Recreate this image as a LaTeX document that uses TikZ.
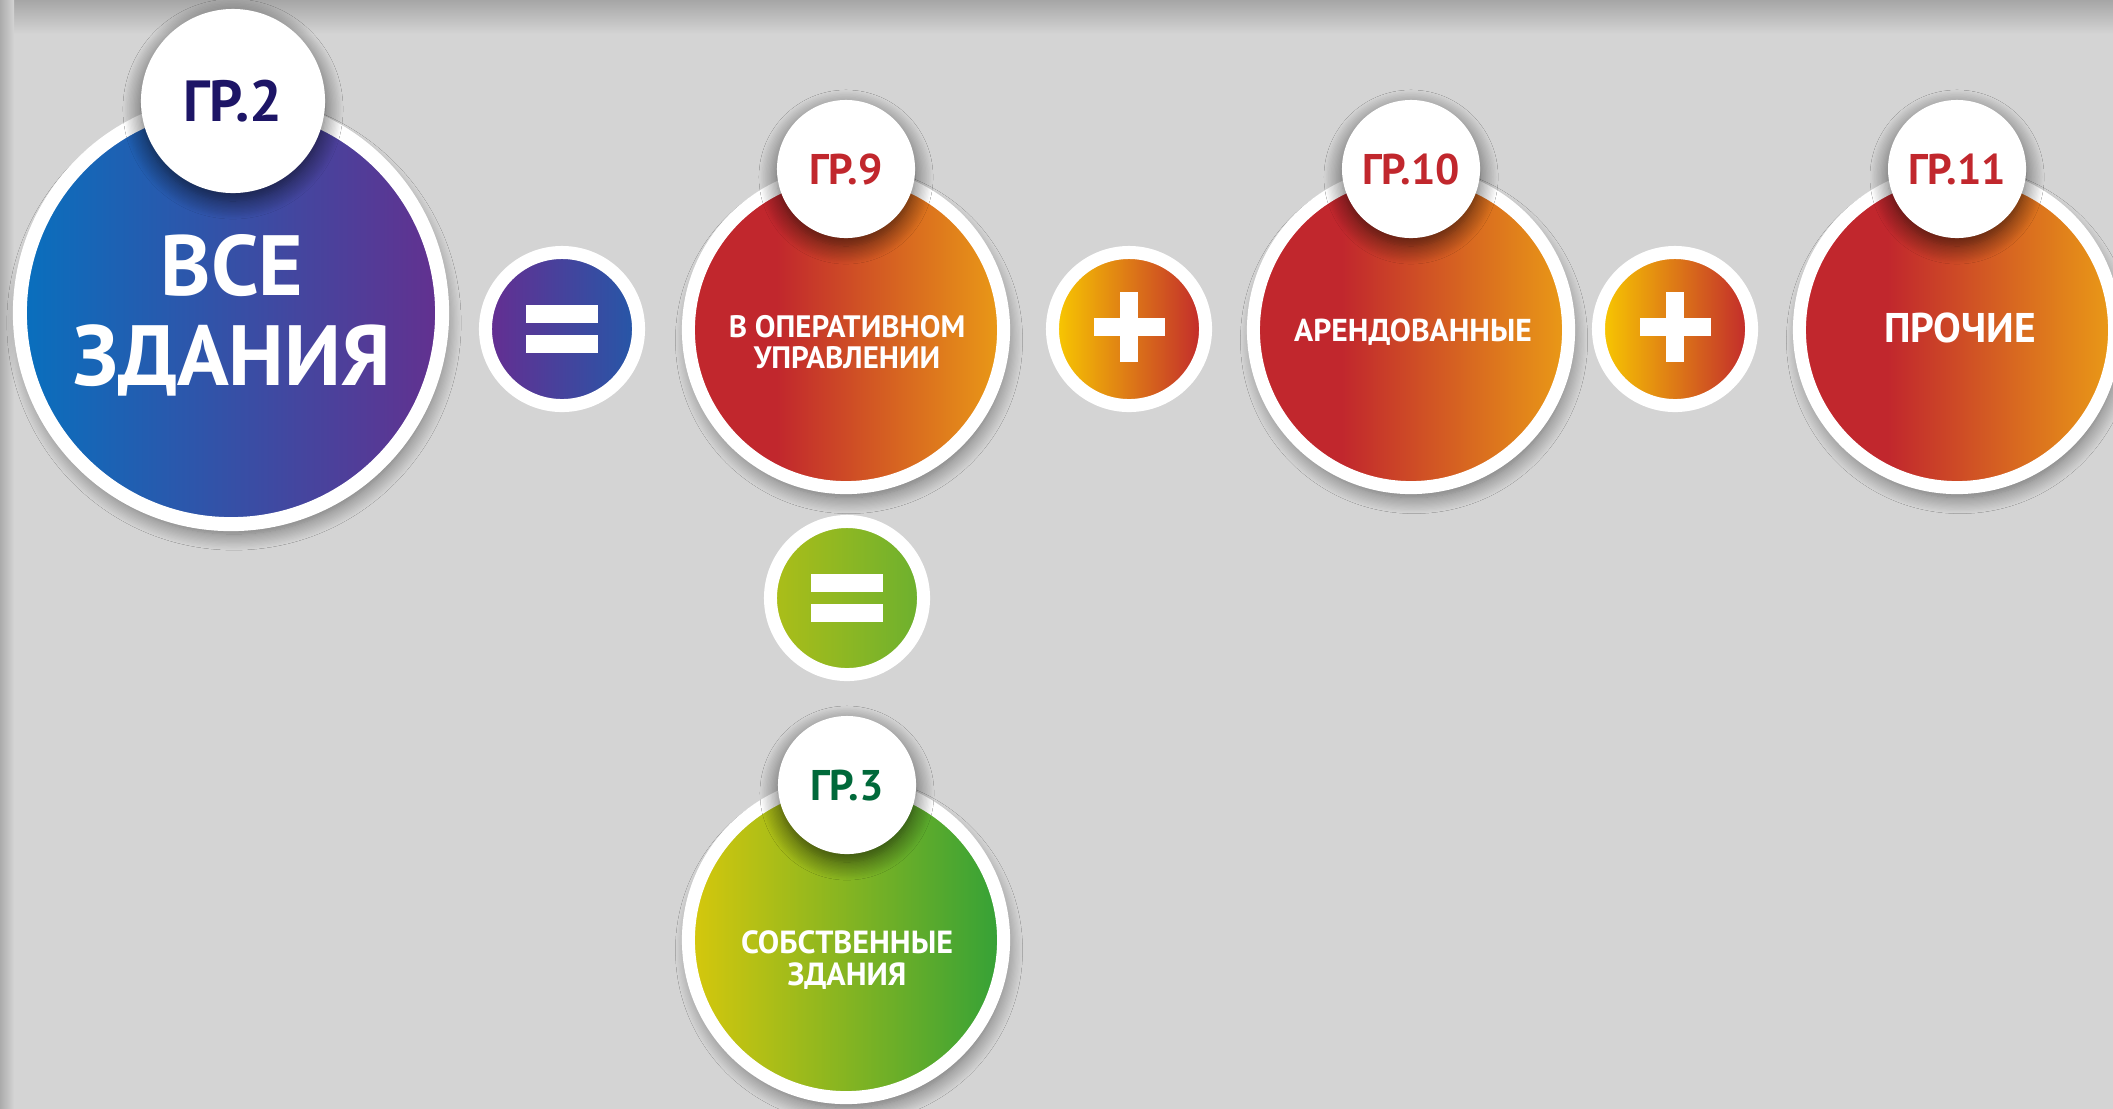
\documentclass[tikz,border=0pt]{standalone}
\usepackage{fontspec}
\setmainfont{PT Sans}
\usetikzlibrary{shadows.blur}

\definecolor{bggray}{HTML}{D4D4D4}
\definecolor{edgegray}{HTML}{A2A2A2}
\definecolor{allblue}{HTML}{0870BE}
\definecolor{allpurple}{HTML}{63308F}
\definecolor{eqpurple}{HTML}{662D91}
\definecolor{eqblue}{HTML}{2558A8}
\definecolor{grred}{HTML}{C1272D}
\definecolor{grorange}{HTML}{EA9B16}
\definecolor{plusyellow}{HTML}{F9CB00}
\definecolor{plusorange}{HTML}{E27A1E}
\definecolor{eqlime}{HTML}{ADBE18}
\definecolor{eqgreen}{HTML}{6BB02F}
\definecolor{ownyellow}{HTML}{D7C80C}
\definecolor{owngreen}{HTML}{33A137}
\definecolor{navytext}{HTML}{1D1566}
\definecolor{greentext}{HTML}{00693A}

\pgfdeclarehorizontalshading{redorange}{100bp}{color(0bp)=(grred); color(39bp)=(grred); color(75bp)=(grorange); color(100bp)=(grorange)}

\tikzset{
  softshadow/.style={blur shadow={shadow xshift=0.03cm, shadow yshift=-0.1cm, shadow blur radius=0.16cm, shadow blur steps=14, shadow opacity=50}},
  ring/.style={circle, draw=white, inner sep=0pt},
  bigdisc/.style={ring, softshadow, line width=0.14cm, minimum size=4.22cm},
  disc/.style={ring, softshadow, line width=0.13cm, minimum size=3.15cm},
  opdisc/.style={ring, line width=0.13cm, minimum size=1.53cm},
  badge/.style={circle, fill=white, inner sep=0pt, minimum size=1.38cm,
    font=\fontsize{12.2}{14}\selectfont\bfseries, text depth=0pt,
    blur shadow={shadow xshift=0pt, shadow yshift=-0.08cm, shadow blur radius=0.18cm, shadow blur steps=14, shadow opacity=65}},
  disctext/.style={text=white, align=center, text depth=0pt, inner sep=0pt},
  eqsign/.style={path picture={
      \fill[white] ([shift={(-0.355cm,0.06cm)}]path picture bounding box.center) rectangle ++(0.71cm,0.18cm);
      \fill[white] ([shift={(-0.355cm,-0.24cm)}]path picture bounding box.center) rectangle ++(0.71cm,0.18cm);}},
  plussign/.style={path picture={
      \fill[white] ([shift={(-0.355cm,-0.07cm)}]path picture bounding box.center) rectangle ++(0.71cm,0.18cm);
      \fill[white] ([shift={(-0.09cm,-0.33cm)}]path picture bounding box.center) rectangle ++(0.18cm,0.70cm);}},
}

\begin{document}
\begin{tikzpicture}[x=0.01cm, y=-0.01cm]
    \useasboundingbox (0,0) rectangle (2113,1108);
    \clip (-3,-3) rectangle (2116,1111);

    % Background
    \fill[bggray] (-3,-3) rectangle (2116,1111);
    \shade[top color=edgegray, bottom color=bggray] (-3,-3) rectangle (2116,34);
    \shade[left color=edgegray, right color=bggray] (-3,-3) rectangle (14,1111);

    % All buildings
    \node[bigdisc, left color=allblue, right color=allpurple] (all) at (231,313) {};
    \node[disctext, font=\fontsize{24.3}{25.5}\selectfont\bfseries] (alltext) at (232,310) {ВСЕ\\ЗДАНИЯ};
    \node[badge, minimum size=1.84cm, text=navytext, font=\fontsize{16.5}{18}\selectfont\bfseries] (gr2) at (233,101) {ГР.2};

    % Operators
    \node[opdisc, eqsign, left color=eqpurple, right color=eqblue] (eqa) at (562,329) {};
    \node[opdisc, plussign, left color=plusyellow, middle color=plusorange, right color=grred] (plusa) at (1129,329) {};
    \node[opdisc, plussign, left color=plusyellow, middle color=plusorange, right color=grred] (plusb) at (1675,329) {};
    \node[opdisc, eqsign, left color=eqlime, right color=eqgreen] (eqb) at (847,598) {};

    % Parts
    \node[disc, shade, shading=redorange] (oper) at (846,330) {};
    \node[disctext, font=\fontsize{8.8}{8.8}\selectfont\bfseries] (opertext) at (847,342) {В ОПЕРАТИВНОМ\\УПРАВЛЕНИИ};
    \node[badge, text=grred] (gr9) at (846,169) {ГР.9};

    \node[disc, shade, shading=redorange] (rent) at (1411,330) {};
    \node[disctext, font=\fontsize{9}{9}\selectfont\bfseries] (renttext) at (1413,330) {АРЕНДОВАННЫЕ};
    \node[badge, text=grred] (gr10) at (1411,169) {ГР.10};

    \node[disc, shade, shading=redorange] (other) at (1957,330) {};
    \node[disctext, font=\fontsize{11.8}{12}\selectfont\bfseries] (othertext) at (1960,328) {ПРОЧИЕ};
    \node[badge, text=grred] (gr11) at (1957,169) {ГР.11};

    \node[disc, left color=ownyellow, right color=owngreen] (own) at (846,940) {};
    \node[disctext, font=\fontsize{9.1}{9.1}\selectfont\bfseries] (owntext) at (847,958) {СОБСТВЕННЫЕ\\ЗДАНИЯ};
    \node[badge, text=greentext] (gr3) at (847,785) {ГР.3};
\end{tikzpicture}
\end{document}
